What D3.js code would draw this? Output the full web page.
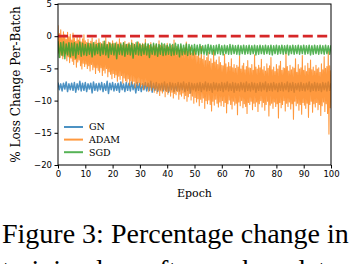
<!doctype html>
<html>
<head>
    <meta charset="UTF-8">
    <title>fig3</title>
    <script src="https://d3js.org/d3.v7.min.js"></script>
    <style>
        body{ margin:0; background:#fff; }
        svg{ display:block; }
    </style>
</head>
<body>
<script>
    // values (even index = upper swing, odd = lower swing)
    // GN and SGD: one value every half epoch
    var gn = [
        -7.2,-8.3,-7.4,-8.5,-7.3,-8.2,-7.1,-8.6,-7.4,-8.3,-7.3,
        -8.4,-7.2,-8.7,-7.4,-8.3,-7.0,-8.5,-7.3,-8.4,-7.2,
        -8.6,-7.4,-8.2,-7.3,-8.8,-7.1,-8.4,-7.4,-8.5,-7.3,
        -8.3,-7.2,-8.6,-7.4,-8.4,-7.0,-8.9,-7.3,-8.3,-7.2,
        -8.5,-7.4,-8.4,-7.3,-8.7,-7.1,-8.3,-7.4,-8.6,-7.2,
        -8.4,-7.3,-8.5,-7.1,-8.3,-7.4,-8.8,-7.2,-8.4,-7.3,
        -8.6,-7.4,-8.3,-7.2,-8.5,-7.3,-8.4,-7.0,-8.7,-7.3,
        -8.4,-7.2,-8.6,-7.4,-8.3,-7.3,-8.5,-7.1,-8.4,-7.4,
        -8.7,-7.2,-8.3,-7.3,-8.6,-7.4,-8.4,-7.2,-8.5,-7.3,
        -8.3,-7.1,-8.6,-7.4,-8.4,-7.2,-8.8,-7.3,-8.3,-7.4,
        -8.5,-7.3,-8.4,-7.2,-8.6,-7.4,-8.3,-7.1,-8.5,-7.3,
        -8.4,-7.4,-8.7,-7.2,-8.3,-7.3,-8.5,-7.4,-8.4,-7.2,
        -8.6,-7.3,-8.3,-7.1,-8.5,-7.4,-8.4,-7.2,-8.7,-7.3,
        -8.4,-7.4,-8.5,-7.2,-8.3,-7.3,-8.6,-7.1,-8.4,-7.4,
        -8.5,-7.2,-8.3,-7.3,-8.7,-7.4,-8.4,-7.2,-8.5,-7.3,
        -8.3,-7.1,-8.6,-7.4,-8.4,-7.3,-8.5,-7.2,-8.3,-7.4,
        -8.6,-7.3,-8.4,-7.2,-8.5,-7.4,-8.3,-7.1,-8.6,-7.3,
        -8.4,-7.2,-8.7,-7.4,-8.3,-7.3,-8.5,-7.2,-8.4,-7.4,
        -8.5,-7.3,-8.3,-7.1,-8.6,-7.4,-8.4,-7.2,-8.5,-7.3,
        -8.4,-7.4,-8.6,-7.2,-8.3,-7.3,-8.5,-7.1,-8.4,-7.3
    ];
    var sgd = [
        -0.8,-3.3,-1.0,-3.0,-0.9,-3.5,-1.2,-2.9,-1.0,-3.2,-1.1,
        -3.0,-1.0,-3.4,-1.2,-2.8,-0.9,-3.1,-1.1,-2.9,-1.3,
        -3.0,-1.1,-2.8,-1.2,-3.2,-1.0,-2.9,-1.3,-2.7,-1.1,
        -3.0,-1.2,-2.8,-0.8,-2.9,-1.3,-3.3,-1.1,-2.8,-1.2,
        -2.9,-1.1,-3.5,-1.3,-2.8,-1.2,-2.9,-1.0,-3.1,-1.3,
        -2.8,-1.2,-2.9,-1.1,-3.4,-1.3,-2.8,-0.9,-2.9,-1.2,
        -3.0,-1.3,-2.8,-1.1,-2.9,-1.2,-3.3,-1.3,-2.8,-1.1,
        -2.9,-1.2,-3.1,-1.3,-2.8,-1.1,-3.0,-1.2,-2.9,-1.4,
        -2.8,-1.2,-3.0,-1.3,-2.9,-1.1,-2.8,-1.3,-3.2,-1.2,
        -2.9,-1.4,-2.8,-1.2,-3.0,-1.3,-2.8,-1.4,-2.9,-1.3,
        -2.8,-1.4,-2.9,-1.3,-2.7,-1.5,-2.8,-1.4,-2.9,-1.3,
        -2.7,-1.4,-2.8,-1.5,-2.9,-1.4,-2.7,-1.3,-2.8,-1.5,
        -2.9,-1.4,-2.7,-1.5,-2.8,-1.3,-2.8,-1.4,-2.7,-1.5,
        -2.8,-1.4,-2.9,-1.5,-2.7,-1.4,-2.8,-1.5,-2.7,-1.4,
        -2.8,-1.5,-2.7,-1.4,-2.9,-1.5,-2.8,-1.4,-2.7,-1.5,
        -2.8,-1.4,-2.7,-1.5,-2.8,-1.4,-2.9,-1.5,-2.7,-1.4,
        -2.8,-1.5,-2.7,-1.4,-2.8,-1.5,-2.7,-1.4,-2.9,-1.5,
        -2.7,-1.4,-2.8,-1.5,-2.7,-1.4,-2.8,-1.5,-2.7,-1.4,
        -2.8,-1.5,-2.7,-1.4,-2.9,-1.5,-2.8,-1.4,-2.7,-1.5,
        -2.8,-1.4,-2.7,-1.5,-2.8,-1.4,-2.7,-1.5,-2.8,-1.4
    ];
    // ADAM: one value every quarter epoch
    var adam = [
        1.7,
        -2.6,0.4,-3.3,1.0,-2.9,-0.2,-3.5,0.7,-3.1,0.2,-2.7,-0.5,-3.8,0.6,-3.2,-0.1,-4.1,0.3,-3.4,-0.6,
        -3.9,0.5,-4.4,-0.3,-3.6,-0.8,-4.8,0.1,-4.0,-0.6,-3.7,-0.2,-4.6,-0.9,-5.1,-0.4,-4.2,0.2,-4.7,-0.7,
        -4.3,-1.0,-5.0,-0.5,-4.6,-1.1,-5.4,-0.8,-4.4,-0.3,-5.2,-1.2,-4.8,-0.9,-5.8,-0.6,-4.9,-1.1,-5.3,-0.4,
        -5.6,-1.0,-4.9,-1.2,-6.1,-0.8,-5.3,-1.1,-5.7,-0.2,-5.0,-1.3,-6.3,-0.9,-5.5,-1.0,-5.9,-1.2,-6.6,-0.7,
        -5.8,-1.1,-6.4,-1.3,-6.0,-0.9,-7.0,-1.2,-6.2,-0.4,-6.7,-1.0,-6.1,-1.4,-7.3,-1.1,-6.5,-0.8,-6.9,-1.3,
        -7.1,-1.2,-6.6,-1.0,-7.6,-1.4,-6.9,-0.6,-7.4,-1.1,-7.0,-1.3,-8.0,-1.0,-7.3,-1.5,-7.7,-0.9,-7.2,-1.2,
        -7.9,-1.4,-7.5,-1.1,-8.3,-1.3,-7.6,-0.5,-8.1,-1.6,-7.8,-1.2,-8.6,-1.4,-7.9,-1.0,-8.4,-1.7,-8.0,-1.3,
        -8.7,-1.5,-8.2,-1.2,-8.9,-1.8,-8.4,-0.7,-9.2,-1.4,-8.5,-1.6,-8.8,-1.3,-8.3,-1.9,-9.4,-1.5,-8.6,-1.1,
        -9.0,-1.7,-8.5,-2.0,-9.3,-1.4,-8.7,-1.8,-9.6,-0.6,-8.9,-2.1,-9.1,-1.6,-8.6,-1.9,-9.8,-2.2,-9.0,-1.5,
        -9.3,-2.0,-8.8,-2.3,-9.7,-1.8,-9.2,-0.9,-10.1,-2.4,-9.4,-2.1,-8.9,-1.7,-9.9,-2.6,-9.3,-2.2,-10.4,-1.9,
        -9.5,-2.7,-10.2,-3.1,-9.7,-2.4,-10.8,-3.4,-9.8,-1.6,-10.3,-3.6,-9.6,-3.0,-11.2,-3.8,-10.0,-3.3,-10.5,-2.5,
        -9.9,-3.9,-10.6,-3.5,-11.6,-4.2,-10.1,-2.2,-10.7,-4.0,-9.8,-3.7,-10.4,-4.4,-11.0,-3.2,-10.2,-4.1,-10.8,-4.5,
        -10.0,-4.6,-10.9,-2.8,-10.3,-4.3,-11.9,-4.8,-10.5,-4.1,-9.9,-4.7,-10.6,-3.5,-11.3,-4.9,-10.1,-4.4,-10.7,-5.0,
        -10.4,-4.5,-12.2,-4.8,-10.2,-3.1,-10.8,-5.1,-10.0,-4.6,-11.1,-4.2,-10.5,-5.2,-10.9,-4.7,-12.0,-3.8,-10.3,-4.9,
        -10.6,-5.0,-10.1,-4.4,-11.4,-5.3,-10.4,-2.9,-10.9,-4.8,-10.2,-5.1,-11.7,-4.5,-10.5,-4.9,-10.0,-3.6,-11.0,-5.2,
        -10.3,-4.7,-11.5,-5.4,-10.6,-4.3,-10.1,-5.0,-12.4,-4.6,-10.7,-3.3,-10.4,-5.2,-11.2,-4.8,-10.2,-5.5,-10.9,-4.4,
        -10.5,-5.1,-12.7,-4.6,-10.3,-3.9,-11.1,-5.3,-10.6,-4.9,-10.0,-5.0,-11.6,-2.6,-10.4,-4.7,-10.9,-5.4,-10.2,-4.5,
        -11.3,-5.2,-10.5,-4.8,-12.9,-5.0,-10.1,-3.5,-10.8,-5.6,-10.4,-4.4,-11.5,-5.1,-10.6,-4.9,-12.1,-3.0,-10.3,-5.3,
        -10.7,-4.6,-11.2,-5.5,-10.4,-4.2,-12.6,-5.0,-10.6,-3.7,-10.1,-5.2,-11.8,-4.8,-10.5,-5.4,-11.0,-4.5,-10.3,-5.1,
        -11.4,-4.9,-10.6,-5.6,-12.3,-4.3,-10.8,-5.2,-10.2,-3.2,-11.7,-5.0,-10.5,-4.7,-12.0,-2.4,-15.2,-4.6,-11.1,-5.3
    ];
    var baseline = 0;

    var seriesNames = ["GN", "ADAM", "SGD"];
    var seriesColors = ["#1f77b4", "#ff7f0e", "#2ca02c"];
    var xTicks = [0, 10, 20, 30, 40, 50, 60, 70, 80, 90, 100];
    var yTicks = [5, 0, -5, -10, -15, -20];
    var caption = ["Figure 3: Percentage change in", "training loss after each update"];

    var series = [gn, adam, sgd];
    var widths = [1.5, 1.1, 1.5];

    var svg = d3.select("body").append("svg").attr("width", 352).attr("height", 264);
    svg.append("rect").attr("width", 352).attr("height", 264).attr("fill", "#fff");

    var x = d3.scaleLinear().domain([0, 100]).range([58, 331]);
    var y = d3.scaleLinear().domain([-20, 5]).range([165, 4]);

    svg.append("clipPath").attr("id", "plot")
        .append("rect").attr("x", 58).attr("y", 4).attr("width", 273).attr("height", 161);

    var g = svg.append("g").attr("clip-path", "url(#plot)");
    series.forEach(function(s, k){
        // each series spans epochs 0..100 evenly
        var step = 100 / (s.length - 1);
        var line = d3.line()
            .x(function(d, i){ return x(i * step); })
            .y(function(d){ return y(d); });
        g.append("path")
            .attr("d", line(s))
            .attr("fill", "none")
            .attr("stroke", seriesColors[k])
            .attr("stroke-opacity", 0.8)
            .attr("stroke-width", widths[k])
            .attr("stroke-linejoin", "round");
    });

    g.append("line")
        .attr("x1", x(0)).attr("x2", x(100))
        .attr("y1", y(baseline)).attr("y2", y(baseline))
        .attr("stroke", "#d62728")
        .attr("stroke-width", 2.7)
        .attr("stroke-dasharray", "10,4.4");

    // axes
    var xAxis = svg.append("g").attr("transform", "translate(0,165)")
        .call(d3.axisBottom(x).tickValues(xTicks).tickSize(3.5).tickPadding(2.5).tickSizeOuter(0));
    var yAxis = svg.append("g").attr("transform", "translate(58,0)")
        .call(d3.axisLeft(y).tickValues(yTicks).tickSize(3.5).tickPadding(2.5).tickSizeOuter(0));
    [xAxis, yAxis].forEach(function(a){
        a.select(".domain").remove();
        a.selectAll("line").attr("stroke", "#000").attr("stroke-width", 1);
        a.selectAll("text").attr("fill", "#000")
            .style("font-family", "DejaVu Sans").style("font-size", "8.5px");
    });

    svg.append("rect")
        .attr("x", 58).attr("y", 4).attr("width", 273).attr("height", 161)
        .attr("fill", "none").attr("stroke", "#000").attr("stroke-width", 1);

    svg.append("text")
        .attr("x", 194.5).attr("y", 197)
        .attr("text-anchor", "middle")
        .style("font-family", "DejaVu Serif").style("font-size", "11px")
        .text("Epoch");

    svg.append("text")
        .attr("transform", "translate(19.5,84.5) rotate(-90)")
        .attr("text-anchor", "middle")
        .style("font-family", "DejaVu Serif").style("font-size", "12px")
        .text("% Loss Change Per-Batch");

    // legend
    seriesNames.forEach(function(n, k){
        var ly = 127 + k * 12.6;
        svg.append("line")
            .attr("x1", 64).attr("x2", 83).attr("y1", ly).attr("y2", ly)
            .attr("stroke", seriesColors[k]).attr("stroke-opacity", 0.8).attr("stroke-width", 2);
        svg.append("text")
            .attr("x", 89).attr("y", ly + 3.3)
            .style("font-family", "DejaVu Serif").style("font-size", "9.5px")
            .text(n);
    });

    caption.forEach(function(c, i){
        svg.append("text")
            .attr("x", 2).attr("y", 243 + i * 36)
            .style("font-family", "Liberation Serif").style("font-size", "28px")
            .text(c);
    });
</script>
</body>
</html>
